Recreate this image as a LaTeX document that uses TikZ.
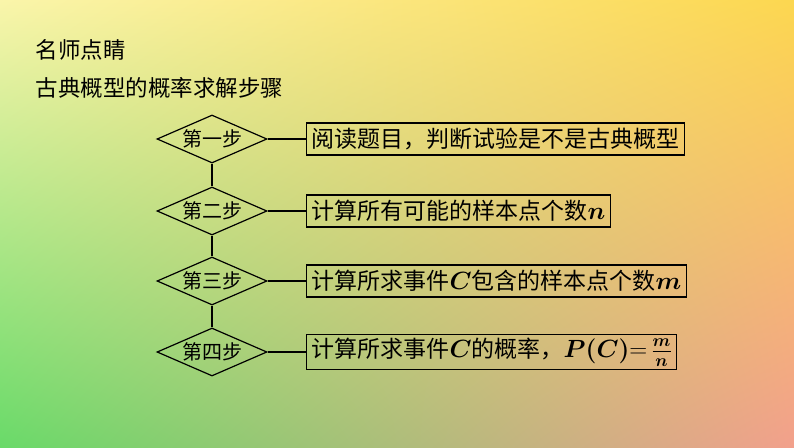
\documentclass[tikz,border=0pt]{standalone}
\usepackage{amsmath,amssymb,bm}
\usepackage{fontspec}
\setmainfont{Noto Sans CJK SC}
\usetikzlibrary{shapes.geometric,shadings}
\definecolor{cUL}{RGB}{250,245,170}
\definecolor{cUR}{RGB}{252,215,80}
\definecolor{cLL}{RGB}{105,218,105}
\definecolor{cLR}{RGB}{242,160,140}
\begin{document}
\begin{tikzpicture}[x=1pt,y=-1pt,
  dia/.style={draw,line width=1.2pt,diamond,aspect=2.2,minimum width=110pt,minimum height=48pt,inner sep=0pt,font=\fontsize{20}{22}\selectfont},
  box/.style={draw,line width=1.2pt,anchor=west,minimum height=32pt,inner ysep=2pt,inner xsep=5pt,font=\fontsize{23}{24}\selectfont},
  ln/.style={line width=1.2pt}]
\shade[upper left=cUL,upper right=cUR,lower left=cLL,lower right=cLR]
  (0,0) rectangle (794,447);
\useasboundingbox (0,0) rectangle (794,447);
\node[anchor=west,font=\fontsize{22.5}{24}\selectfont] (t1) at (32,50) {名师点睛};
\node[anchor=west,font=\fontsize{22.5}{24}\selectfont] (t2) at (32,88) {古典概型的概率求解步骤};
\node[dia] (d1) at (212,139) {第一步};
\node[dia] (d2) at (212,211) {第二步};
\node[dia] (d3) at (212,281) {第三步};
\node[dia] (d4) at (212,352) {第四步};
\node[box] (b1) at (306,139) {阅读题目，判断试验是不是古典概型};
\node[box] (b2) at (306,211) {计算所有可能的样本点个数$\bm{n}$};
\node[box] (b3) at (306,281) {计算所求事件$\bm{C}$包含的样本点个数$\bm{m}$};
\node[box,minimum height=35pt] (b4) at (306,352) {计算所求事件$\bm{C}$的概率，$\bm{P(C)}{=}\,\bm{\genfrac{}{}{0.6pt}{1}{m}{n}}$};
\foreach \i in {1,...,4}{\draw[ln] (d\i.east) -- (b\i.west);}
\draw[ln] (d1.south) -- (d2.north);
\draw[ln] (d2.south) -- (d3.north);
\draw[ln] (d3.south) -- (d4.north);
\end{tikzpicture}
\end{document}
